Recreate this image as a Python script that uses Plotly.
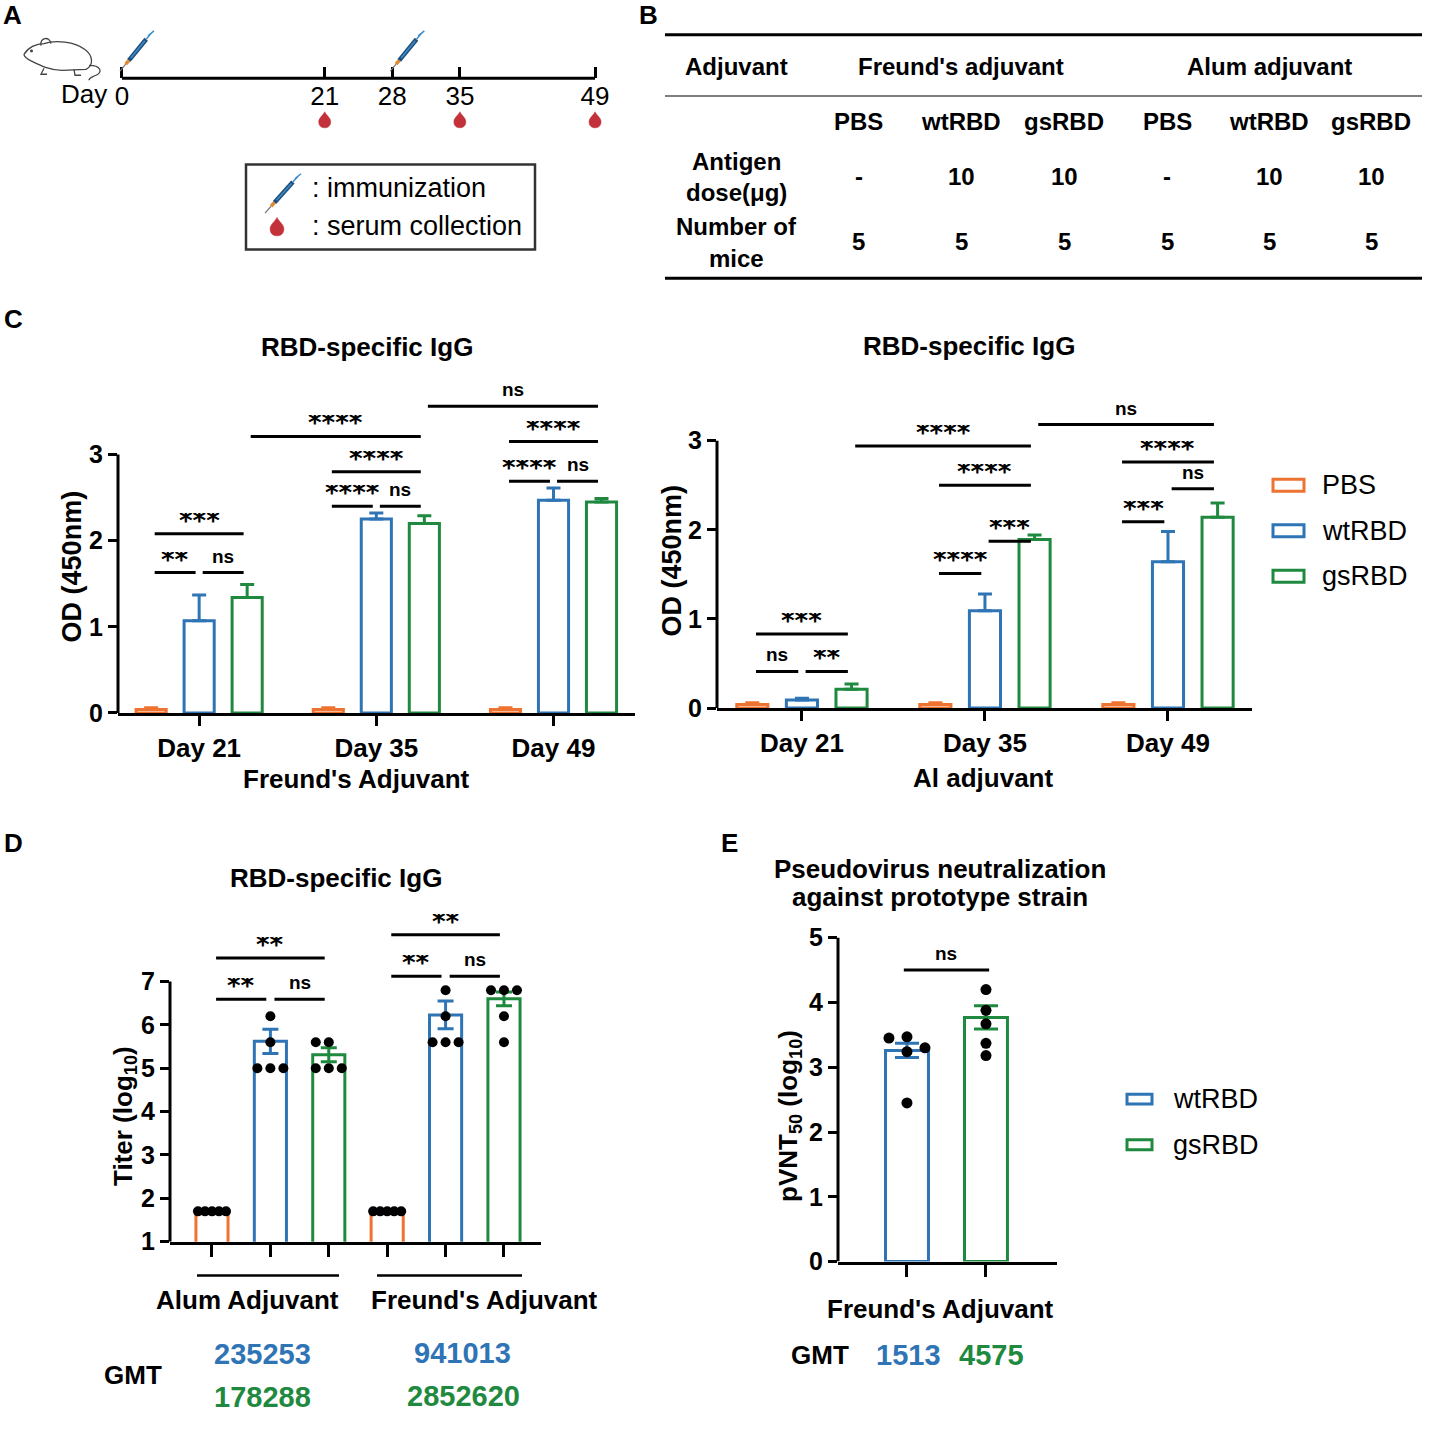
import plotly.graph_objects as go

W = H = 1431
FONT = "Liberation Sans, Arial, sans-serif"
STAR = "DejaVu Sans, sans-serif"
ORANGE, BLUE, GREEN = "#EE7330", "#2F74B5", "#1F8A3F"
DROP_RED = "#C3313A"

# ---------------- data ----------------
timeline_days = [0, 21, 28, 35, 49]
immunization_days = [0, 28]
collection_days = [21, 35, 49]

table_adjuvants = ["Freund's adjuvant", "Alum adjuvant"]
table_antigens = ["PBS", "wtRBD", "gsRBD", "PBS", "wtRBD", "gsRBD"]
table_dose = ["-", "10", "10", "-", "10", "10"]
table_mice = ["5", "5", "5", "5", "5", "5"]

groups = ["PBS", "wtRBD", "gsRBD"]
days = ["Day 21", "Day 35", "Day 49"]

# C, Freund's adjuvant (OD450, mean and SEM)
freund_od_pbs = [0.04, 0.04, 0.04]
freund_od_wt = [1.07, 2.25, 2.47]
freund_od_gs = [1.34, 2.20, 2.45]
freund_sem_pbs = [0.02, 0.02, 0.02]
freund_sem_wt = [0.30, 0.07, 0.14]
freund_sem_gs = [0.15, 0.09, 0.04]
# (group, bar) -> (group, bar), y, label
freund_sig = [((0, 0), (0, 1), 1.63, "**"), ((0, 1), (0, 2), 1.63, "ns"), ((0, 0), (0, 2), 2.08, "***"),
              ((1, 0), (1, 1), 2.40, "****"), ((1, 1), (1, 2), 2.40, "ns"), ((1, 0), (1, 2), 2.80, "****"),
              ((0, 2), (1, 2), 3.21, "****"),
              ((2, 0), (2, 1), 2.69, "****"), ((2, 1), (2, 2), 2.69, "ns"), ((2, 0), (2, 2), 3.15, "****"),
              ((1, 2), (2, 2), 3.56, "ns")]

# C, Al adjuvant
alum_od_pbs = [0.04, 0.04, 0.04]
alum_od_wt = [0.09, 1.09, 1.64]
alum_od_gs = [0.21, 1.89, 2.14]
alum_sem_pbs = [0.02, 0.02, 0.02]
alum_sem_wt = [0.02, 0.19, 0.34]
alum_sem_gs = [0.06, 0.05, 0.16]
alum_sig = [((0, 0), (0, 1), 0.41, "ns"), ((0, 1), (0, 2), 0.41, "**"), ((0, 0), (0, 2), 0.83, "***"),
            ((1, 0), (1, 1), 1.51, "****"), ((1, 1), (1, 2), 1.87, "***"), ((1, 0), (1, 2), 2.50, "****"),
            ((0, 2), (1, 2), 2.94, "****"),
            ((2, 0), (2, 1), 2.09, "***"), ((2, 1), (2, 2), 2.46, "ns"), ((2, 0), (2, 2), 2.76, "****"),
            ((1, 2), (2, 2), 3.18, "ns")]

# D, endpoint titers (log10)
titer_adjuvants = ["Alum Adjuvant", "Freund's Adjuvant"]
titer_mean_pbs = [1.70, 1.70]
titer_mean_wt = [5.62, 6.23]
titer_mean_gs = [5.31, 6.60]
titer_sem_pbs = [0.0, 0.0]
titer_sem_wt = [0.28, 0.32]
titer_sem_gs = [0.16, 0.16]
alum_pts_pbs = [1.7, 1.7, 1.7, 1.7, 1.7]
alum_pts_wt = [6.2, 5.6, 5.0, 5.0, 5.0]
alum_pts_gs = [5.6, 5.6, 5.0, 5.0, 5.0]
freund_pts_pbs = [1.7, 1.7, 1.7, 1.7, 1.7]
freund_pts_wt = [6.8, 6.2, 5.6, 5.6, 5.6]
freund_pts_gs = [6.8, 6.8, 6.8, 6.2, 5.6]
titer_sig = [(0, 1, 6.59, "**"), (1, 2, 6.59, "ns"), (0, 2, 7.54, "**"),
             (3, 4, 7.12, "**"), (4, 5, 7.12, "ns"), (3, 5, 8.08, "**")]
gmt_alum = [235253, 178288]
gmt_freund = [941013, 2852620]

# E, pseudovirus neutralization
pvnt_groups = ["wtRBD", "gsRBD"]
pvnt_mean = [3.26, 3.77]
pvnt_sem = [0.11, 0.18]
pvnt_pts_wt = [3.47, 3.45, 3.24, 3.30, 2.45]
pvnt_pts_gs = [4.20, 3.88, 3.67, 3.37, 3.18]
pvnt_sig = [(0, 1, 4.50, "ns")]
gmt_pvnt = [1513, 4575]

# ---------------- helpers ----------------
def px(x):
    return x / W


def py(y):
    return 1 - y / H


fig = go.Figure()
shapes = []


def text(x, y, s, size=26, bold=True, color="black", family=FONT, xanchor="center", angle=0):
    fig.add_annotation(x=px(x), y=py(y), xref="paper", yref="paper", text=s, showarrow=False,
                       xanchor=xanchor, yanchor="middle", textangle=angle,
                       font=dict(family=family, size=size, color=color, weight="bold" if bold else "normal"))


def hline(x0, x1, y, width=3, color="black"):
    shapes.append(dict(type="line", xref="paper", yref="paper", x0=px(x0), x1=px(x1), y0=py(y), y1=py(y),
                       line=dict(color=color, width=width)))


def ppath(cmds):
    out = []
    for c, pts in cmds:
        out.append(c + " ".join(f"{px(x):.5f},{py(y):.5f}" for x, y in pts))
    return " ".join(out)


def syringe(xref, xanchor, yref, yanchor, tip, end):
    # pieces along the syringe: needle, hub, barrel, plunger
    parts = [(0.0, 0.18, "#777777", 1.2), (0.18, 0.28, "#E0892E", 3.5),
             (0.28, 0.82, "#1F4E79", 4.5), (0.34, 0.78, "#3C8DCB", 1.5), (0.82, 0.97, "#3C8DCB", 1.5)]
    dx, dy = end[0] - tip[0], end[1] - tip[1]
    for a, b, col, w in parts:
        shapes.append(dict(type="line", xref=xref, yref=yref, xsizemode="pixel", ysizemode="pixel",
                           xanchor=xanchor, yanchor=yanchor,
                           x0=tip[0] + a * dx, y0=tip[1] + a * dy, x1=tip[0] + b * dx, y1=tip[1] + b * dy,
                           line=dict(color=col, width=w)))
    cx, cy = tip[0] + 0.97 * dx, tip[1] + 0.97 * dy
    shapes.append(dict(type="line", xref=xref, yref=yref, xsizemode="pixel", ysizemode="pixel",
                       xanchor=xanchor, yanchor=yanchor, x0=cx - 3, y0=cy - 2.5, x1=cx + 3, y1=cy + 2.5,
                       line=dict(color="#3C8DCB", width=1.5)))


def drop(xref, xanchor, yref, yanchor, s=1.0):
    pts = "M0,{a} C{b},{c} {d},{e} {d},{f} C{d},{g} {h},{i} 0,{i} C-{h},{i} -{d},{g} -{d},{f} C-{d},{e} -{b},{c} 0,{a} Z"
    path = pts.format(a=9 * s, b=2 * s, c=5 * s, d=6 * s, e=3 * s, f=-1 * s, g=-5 * s, h=3.3 * s, i=-7 * s)
    shapes.append(dict(type="path", xref=xref, yref=yref, xsizemode="pixel", ysizemode="pixel",
                       xanchor=xanchor, yanchor=yanchor, path=path, fillcolor=DROP_RED,
                       line=dict(color=DROP_RED, width=0.5)))


def swarm(values, y_ppu, x_ppu, step, min_dist, max_half):
    placed, offs = [], []
    for v in values:
        yv = v * y_ppu
        for c in [0, -1, 1, -2, 2, -3, 3]:
            if all((c * step - o) ** 2 + (yv - yo) ** 2 >= min_dist ** 2 for o, yo in placed):
                break
        placed.append((c * step, yv))
        offs.append(c * step)
    m = max(abs(o) for o in offs)
    if m > max_half:
        offs = [o * max_half / m for o in offs]
    return [o / x_ppu for o in offs]


def sig_marks(sig, xpos, xref, yref, inset):
    for a, b, y, lab in sig:
        x0, x1 = xpos(a) + inset, xpos(b) - inset
        shapes.append(dict(type="line", xref=xref, yref=yref, x0=x0, x1=x1, y0=y, y1=y,
                           line=dict(color="black", width=3)))
        star = "*" in lab
        fig.add_annotation(x=(x0 + x1) / 2, y=y, xref=xref, yref=yref, text=lab, showarrow=False,
                           xanchor="center", yanchor="middle", yshift=13 if star else 17, height=16,
                           font=dict(family=STAR if star else FONT, size=26 if star else 19,
                                     color="black", weight="bold"))


colors = [ORANGE, BLUE, GREEN]
axis_common = dict(showgrid=False, zeroline=False, ticks="outside", tickwidth=3, tickcolor="black",
                   linecolor="black", linewidth=3)

# ---------------- A: timeline ----------------
TL_Y = (140 - 79) / 120
DROP_Y = (140 - 122) / 120
fig.add_trace(go.Scatter(x=[timeline_days[0], timeline_days[-1]], y=[TL_Y, TL_Y], mode="lines",
                         line=dict(color="black", width=3), xaxis="x", yaxis="y", showlegend=False,
                         hoverinfo="skip"))
for d in immunization_days:
    syringe("x", d, "y", TL_Y, (-2, 7), (30, 46))
for d in collection_days:
    drop("x", d, "y", DROP_Y)
text(84, 95, "Day", size=26, bold=False)

# mouse outline
mouse = [
    ppath([("M", [(24, 55)]), ("C", [(28, 48), (36, 44), (44, 44)]), ("C", [(55, 40), (75, 42), (85, 50)]),
           ("C", [(93, 56), (94, 66), (86, 70)]), ("L", [(62, 71)]), ("C", [(50, 71), (40, 66), (32, 62)]),
           ("C", [(28, 60), (24, 58), (24, 55)]), ("Z", [])]),
    ppath([("M", [(41, 46)]), ("C", [(39, 38), (50, 36), (51, 44)])]),
    ppath([("M", [(89, 66)]), ("C", [(101, 66), (103, 73), (96, 76)]), ("C", [(92, 78), (89, 78), (89, 81)])]),
    ppath([("M", [(44, 69)]), ("L", [(41, 75)]), ("L", [(47, 75)])]),
    ppath([("M", [(74, 70)]), ("L", [(75, 76)]), ("L", [(81, 76)])]),
]
for p in mouse:
    shapes.append(dict(type="path", xref="paper", yref="paper", path=p, line=dict(color="#444444", width=1.3)))
shapes.append(dict(type="circle", xref="paper", yref="paper", x0=px(30), x1=px(33), y0=py(50), y1=py(53),
                   fillcolor="#444444", line=dict(width=0)))

# legend box
shapes.append(dict(type="rect", xref="paper", yref="paper", x0=px(246), x1=px(535), y0=py(166), y1=py(252),
                   line=dict(color="#333333", width=2.5)))
syringe("paper", px(282), "paper", py(196), (-17, -19), (17, 19))
drop("paper", px(277), "paper", py(230), 1.15)
text(310, 190, ": immunization", size=27, bold=False, xanchor="left")
text(310, 228, ": serum collection", size=27, bold=False, xanchor="left")

# ---------------- B: table ----------------
hline(665, 1422, 35, 3)
hline(665, 1422, 97, 1.5, "#555555")
hline(665, 1422, 281, 3)
col_x = [859, 961, 1064, 1167, 1269, 1371]
TB = 24
text(737, 67, "Adjuvant", size=TB)
for i, name in enumerate(table_adjuvants):
    text(col_x[3 * i + 1], 67, name, size=TB)
text(737, 163, "Antigen", size=TB)
text(737, 194, "dose(μg)", size=TB)
text(737, 229, "Number of", size=TB)
text(737, 261, "mice", size=TB)
for x, a, d, m in zip(col_x, table_antigens, table_dose, table_mice):
    text(x, 123, a, size=TB)
    text(x, 178, d, size=TB)
    text(x, 244, m, size=TB)

# ---------------- C: OD panels ----------------
C_STEP, C_BAR = 0.271, 0.17


def od_panel(xa, ya, means, sems, sig):
    for k in range(3):
        fig.add_trace(go.Bar(x=[i + (k - 1) * C_STEP for i in range(len(days))], y=means[k], width=C_BAR,
                             marker=dict(color="white", line=dict(color=colors[k], width=3)),
                             error_y=dict(type="data", array=sems[k], arrayminus=[0] * len(days),
                                          symmetric=False, color=colors[k], thickness=3, width=7),
                             xaxis=xa, yaxis=ya, showlegend=False, name=groups[k]))
    sig_marks(sig, lambda gb: gb[0] + (gb[1] - 1) * C_STEP, xa, ya, 0.02)
    shapes.append(dict(type="line", xref=xa + " domain", yref=ya, x0=0, x1=0, y0=0, y1=3,
                       line=dict(color="black", width=3)))


od_panel("x2", "y2", [freund_od_pbs, freund_od_wt, freund_od_gs],
         [freund_sem_pbs, freund_sem_wt, freund_sem_gs], freund_sig)
od_panel("x3", "y3", [alum_od_pbs, alum_od_wt, alum_od_gs],
         [alum_sem_pbs, alum_sem_wt, alum_sem_gs], alum_sig)

text(367, 350, "RBD-specific IgG", size=26)
text(969, 349, "RBD-specific IgG", size=26)
text(356, 787, "Freund's Adjuvant", size=26)
text(983, 786, "Al adjuvant", size=26)
text(72, 572, "OD (450nm)", size=27, angle=-90)
text(672, 566, "OD (450nm)", size=27, angle=-90)

for k, g in enumerate(groups):
    yy = 490 + 46 * k
    shapes.append(dict(type="rect", xref="paper", yref="paper", x0=px(1273), x1=px(1304), y0=py(yy - 6),
                       y1=py(yy + 6), line=dict(color=colors[k], width=3), fillcolor="white"))
    text(1320, yy, g, size=27, bold=False, xanchor="left")

# ---------------- D: titers ----------------
D_Y, D_X = 43.8, 58.4
means = [titer_mean_pbs, titer_mean_wt, titer_mean_gs]
sems = [titer_sem_pbs, titer_sem_wt, titer_sem_gs]
for k in range(3):
    fig.add_trace(go.Bar(x=[g * 3 + k for g in range(2)], y=means[k], width=0.55,
                         marker=dict(color="white", line=dict(color=colors[k], width=3)),
                         error_y=dict(type="data", array=sems[k], color=colors[k], thickness=3, width=8,
                                      visible=k > 0),
                         xaxis="x4", yaxis="y4", showlegend=False, name=groups[k]))
titer_pts = [[alum_pts_pbs, alum_pts_wt, alum_pts_gs], [freund_pts_pbs, freund_pts_wt, freund_pts_gs]]
for g in range(2):
    for k in range(3):
        vals = titer_pts[g][k]
        offs = swarm(vals, D_Y, D_X, 13, 12, 14)
        fig.add_trace(go.Scatter(x=[g * 3 + k + o for o in offs], y=vals, mode="markers",
                                 marker=dict(color="black", size=10), xaxis="x4", yaxis="y4",
                                 showlegend=False, cliponaxis=False))
sig_marks(titer_sig, lambda s: s, "x4", "y4", 0.07)
shapes.append(dict(type="line", xref="x4 domain", yref="y4", x0=0, x1=0, y0=1, y1=7,
                   line=dict(color="black", width=3)))
text(336, 887, "RBD-specific IgG", size=26)
text(125, 1127, "Titer (log<sub>10</sub>)", size=26, angle=-90)
hline(197, 339, 1288, 2.5)
hline(377, 522, 1288, 2.5)
text(247, 1313, titer_adjuvants[0], size=26)
text(484, 1313, titer_adjuvants[1], size=26)
text(133, 1389, "GMT", size=26)
text(262, 1367, str(gmt_alum[0]), size=29, color=BLUE)
text(262, 1411, str(gmt_alum[1]), size=29, color=GREEN)
text(462, 1366, str(gmt_freund[0]), size=29, color=BLUE)
text(463, 1410, str(gmt_freund[1]), size=29, color=GREEN)

# ---------------- E: pVNT50 ----------------
E_Y, E_X = 65.4, 79.0
for k in range(2):
    fig.add_trace(go.Bar(x=[k], y=[pvnt_mean[k]], width=0.544,
                         marker=dict(color="white", line=dict(color=colors[k + 1], width=3)),
                         error_y=dict(type="data", array=[pvnt_sem[k]], color=colors[k + 1], thickness=3, width=12),
                         xaxis="x5", yaxis="y5", showlegend=False, name=pvnt_groups[k]))
for k, vals in enumerate([pvnt_pts_wt, pvnt_pts_gs]):
    offs = swarm(vals, E_Y, E_X, 18, 12, 20)
    fig.add_trace(go.Scatter(x=[k + o for o in offs], y=vals, mode="markers",
                             marker=dict(color="black", size=11), xaxis="x5", yaxis="y5",
                             showlegend=False, cliponaxis=False))
sig_marks(pvnt_sig, lambda s: s, "x5", "y5", -0.04)
shapes.append(dict(type="line", xref="x5 domain", yref="y5", x0=0, x1=0, y0=0, y1=5,
                   line=dict(color="black", width=3)))
text(940, 878, "Pseudovirus neutralization", size=26)
text(940, 906, "against prototype strain", size=26)
text(790, 1127, "pVNT<sub>50</sub> (log<sub>10</sub>)", size=26, angle=-90)
text(940, 1322, "Freund's Adjuvant", size=26)
text(820, 1368, "GMT", size=26)
text(908, 1368, str(gmt_pvnt[0]), size=29, color=BLUE)
text(992, 1368, str(gmt_pvnt[1]), size=29, color=GREEN)
for k, g in enumerate(pvnt_groups):
    yy = 1110 + 46 * k
    shapes.append(dict(type="rect", xref="paper", yref="paper", x0=px(1127), x1=px(1152), y0=py(yy - 5),
                       y1=py(yy + 5), line=dict(color=colors[k + 1], width=3), fillcolor="white"))
    text(1171, yy, g, size=27, bold=False, xanchor="left")

# panel letters
text(1, 15, "A", size=26, xanchor="left")
text(637, 15, "B", size=26, xanchor="left")
text(2, 322, "C", size=26, xanchor="left")
text(2, 851, "D", size=26, xanchor="left")
text(719, 851, "E", size=26, xanchor="left")

tick_bold = dict(family=FONT, size=25, color="black", weight="bold")
fig.update_layout(
    width=W, height=H, margin=dict(l=0, r=0, t=0, b=0),
    paper_bgcolor="white", plot_bgcolor="rgba(0,0,0,0)", barmode="overlay", showlegend=False,
    shapes=shapes,
    xaxis=dict(domain=[px(93), px(624)], range=[-3, 52], anchor="free", position=py(79),
               tickvals=timeline_days, ticktext=[str(d) for d in timeline_days], ticks="inside",
               ticklen=11, tickwidth=3, tickcolor="black", showline=False, showgrid=False, zeroline=False,
               tickfont=dict(family=FONT, size=26, color="black")),
    yaxis=dict(domain=[py(140), py(20)], range=[0, 1], visible=False, anchor="x"),
    xaxis2=dict(axis_common, domain=[px(118), px(635)], range=[-0.458, 2.46], anchor="y2",
                tickvals=[0, 1, 2], ticktext=days, ticklen=10, showline=True,
                tickfont=dict(family=FONT, size=26, color="black", weight="bold")),
    yaxis2=dict(axis_common, domain=[py(720), py(720 - 3.8 * 87)], range=[0, 3.8], anchor="x2",
                tickvals=[0, 1, 2, 3], ticklen=9, showline=False, tickfont=tick_bold),
    xaxis3=dict(axis_common, domain=[px(717), px(1252)], range=[-0.464, 2.459], anchor="y3",
                tickvals=[0, 1, 2], ticktext=days, ticklen=10, showline=True,
                tickfont=dict(family=FONT, size=26, color="black", weight="bold")),
    yaxis3=dict(axis_common, domain=[py(715), py(715 - 3.5 * 90)], range=[0, 3.5], anchor="x3",
                tickvals=[0, 1, 2, 3], ticklen=9, showline=False, tickfont=tick_bold),
    xaxis4=dict(axis_common, domain=[px(170), px(541)], range=[-0.719, 5.634], anchor="y4",
                tickvals=[0, 1, 2, 3, 4, 5], ticklen=12, showline=True, showticklabels=False),
    yaxis4=dict(axis_common, domain=[py(1254), py(1254 - 7.3 * D_Y)], range=[1, 8.3], anchor="x4",
                tickvals=[1, 2, 3, 4, 5, 6, 7], ticklen=9, showline=False, tickfont=tick_bold),
    xaxis5=dict(axis_common, domain=[px(838), px(1057)], range=[-0.873, 1.899], anchor="y5",
                tickvals=[0, 1], ticklen=12, showline=True, showticklabels=False),
    yaxis5=dict(axis_common, domain=[py(1274), py(1274 - 5.25 * E_Y)], range=[0, 5.25], anchor="x5",
                tickvals=[0, 1, 2, 3, 4, 5], ticklen=9, showline=False, tickfont=tick_bold),
)

# drop the page's default body margin and scrollbars so the figure sits on the window's pixel grid
fig.write_html("out.html", config={"displayModeBar": False},
               post_script="document.body.style.margin='0px';"
                           "document.documentElement.style.overflow='hidden';"
                           "document.body.style.overflow='hidden';")
